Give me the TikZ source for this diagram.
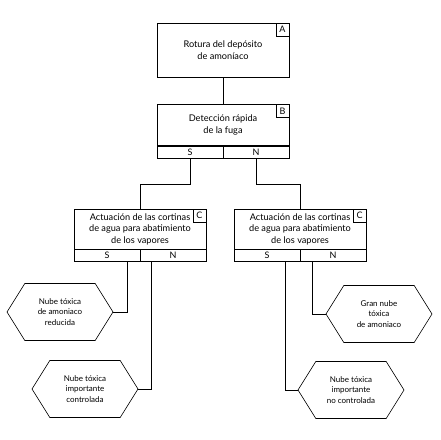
\documentclass[tikz,border=0pt]{standalone}
\usepackage{fontspec}
\setmainfont{Lato}
\usetikzlibrary{positioning, shapes.symbols}

\begin{document}
\begin{tikzpicture}[x = 1pt, y = -1pt, line width = 0.6pt,
	event/.style = { draw, minimum width = 132pt, align = center, inner sep = 0pt, font = \fontsize{9.2}{11.5}\selectfont },
	tag/.style = { draw, anchor = north east, minimum size = 13pt, inner sep = 0pt, font = \fontsize{9}{11}\selectfont },
	branch/.style = { draw, minimum width = 66pt, minimum height = 12pt, inner sep = 0pt, font = \fontsize{9}{11}\selectfont },
	outcome/.style = { draw, signal, signal to = east and west, signal pointer angle = 116, minimum width = 106pt, minimum height = 57pt, align = center, inner sep = 1pt, font = \fontsize{8}{10.5}\selectfont }]
	\useasboundingbox (0, 0) rectangle (441, 439);

	\node [event, minimum height = 54pt] (A) at (223, 50) {Rotura del depósito\\de amoníaco};
	\node [tag] (tA) at (A.north east) {A};

	\node [event, minimum height = 41pt, below = 27pt of A] (B) {Detección rápida\\de la fuga};
	\node [tag] (tB) at (B.north east) {B};
	\node [branch, anchor = north west] (Bs) at (B.south west) {S};
	\node [branch, anchor = north east] (Bn) at (B.south east) {N};

	\node [event, minimum height = 40pt] (C1) at (140, 229) {Actuación de las cortinas\\de agua para abatimiento\\de los vapores};
	\node [tag] (tC1) at (C1.north east) {C};
	\node [branch, anchor = north west] (C1s) at (C1.south west) {S};
	\node [branch, anchor = north east] (C1n) at (C1.south east) {N};

	\node [event, minimum height = 40pt] (C2) at (300, 229) {Actuación de las cortinas\\de agua para abatimiento\\de los vapores};
	\node [tag] (tC2) at (C2.north east) {C};
	\node [branch, anchor = north west] (C2s) at (C2.south west) {S};
	\node [branch, anchor = north east] (C2n) at (C2.south east) {N};

	\node [outcome] (h1) at (60, 312) {Nube tóxica\\de amoniaco\\reducida};
	\node [outcome] (h2) at (85, 389) {Nube tóxica\\importante\\controlada};
	\node [outcome] (h3) at (379, 314) {Gran nube\\tóxica\\de amoniaco};
	\node [outcome] (h4) at (351, 390) {Nube tóxica\\importante\\no controlada};

	\draw (A) -- (B);
	\draw (Bs.south) -- ++(0, 26) -| (C1.north);
	\draw (Bn.south) -- ++(0, 26) -| (C2.north);

	\draw ([xshift = -13pt]C1s.south east) |- (h1.east);
	\draw ([xshift = 12pt]C1n.south west) |- (h2.east);
	\draw ([xshift = 13pt]C2n.south west) |- (h3.west);
	\draw ([xshift = -15pt]C2s.south east) |- (h4.west);
\end{tikzpicture}
\end{document}
